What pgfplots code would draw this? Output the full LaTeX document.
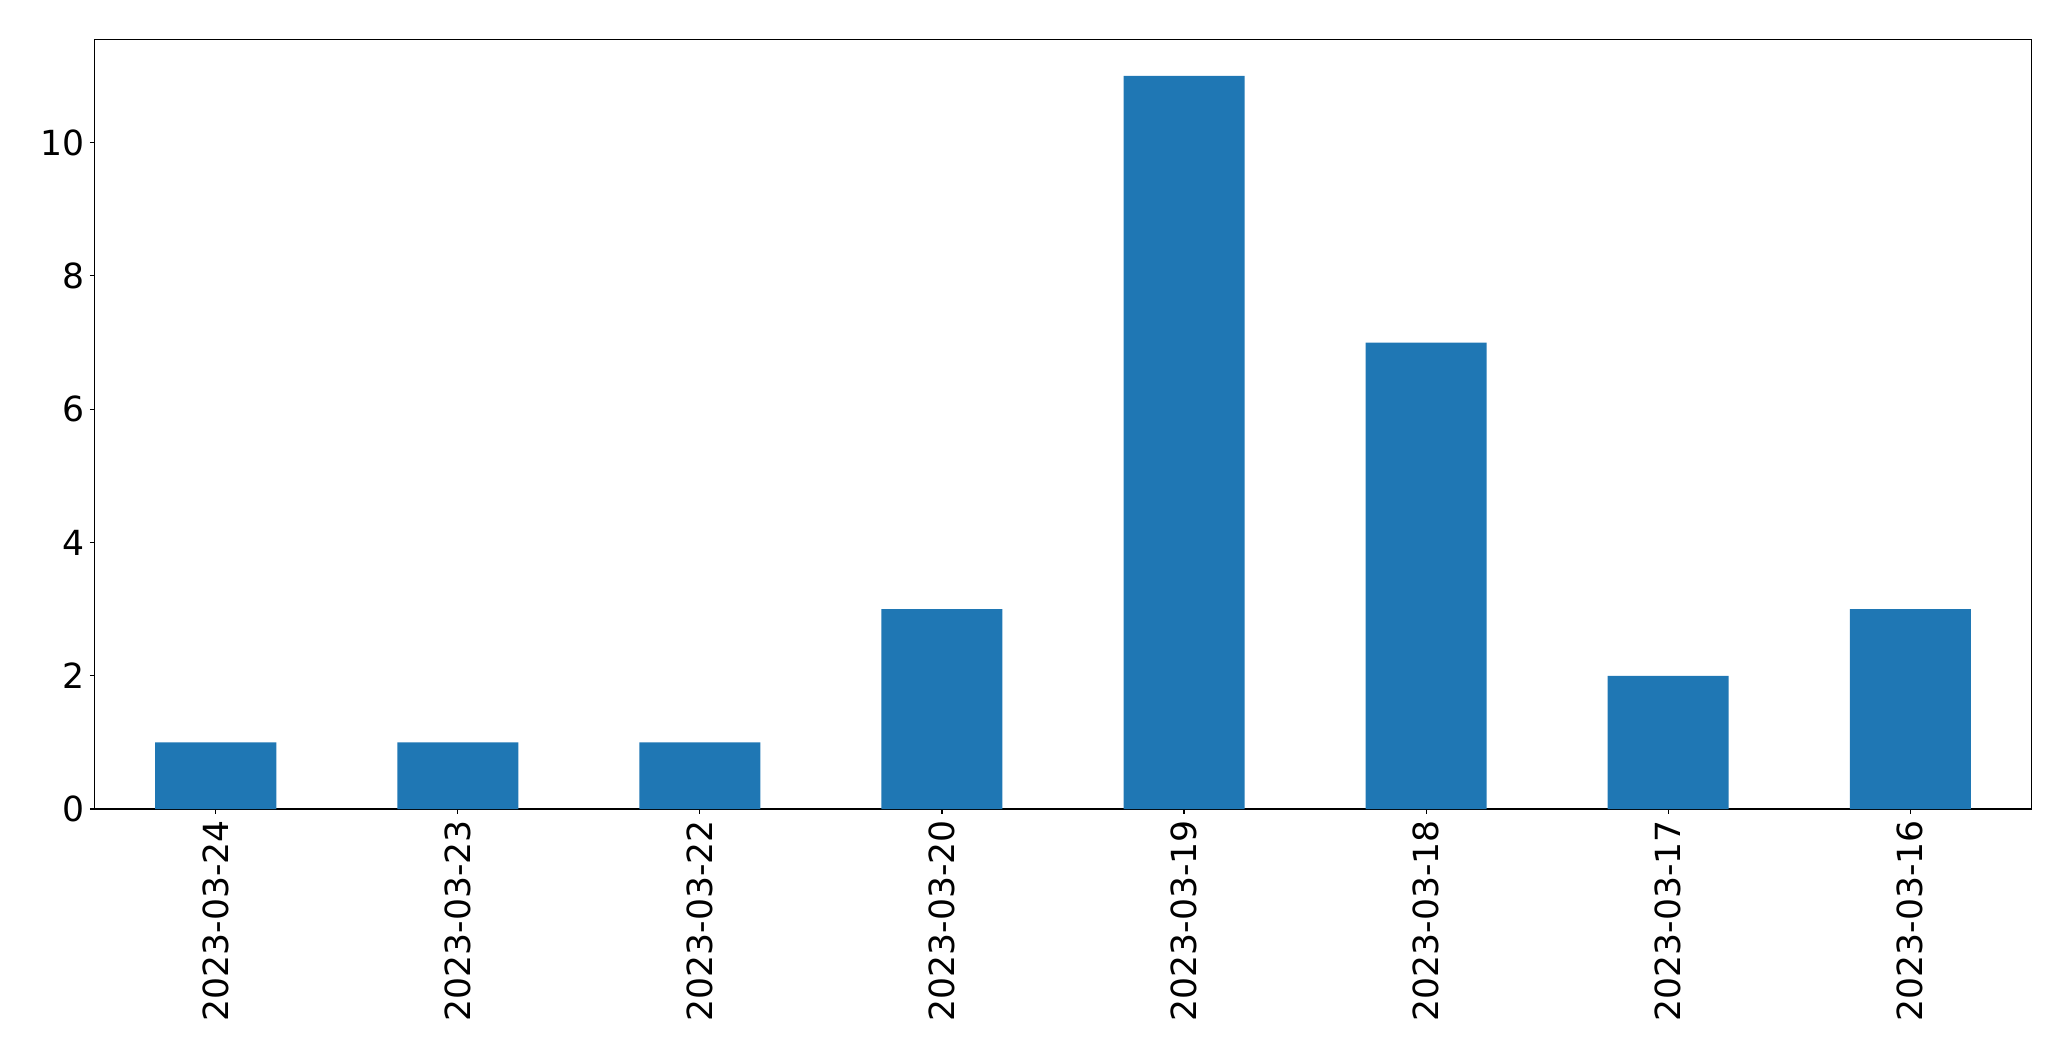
\documentclass[border=0pt]{standalone}
\usepackage{fontspec}
\setmainfont{DejaVu Sans}
\usepackage{pgfplots}
\pgfplotsset{compat=1.18}
\definecolor{mplblue}{HTML}{1F77B4}
\begin{document}
\begin{tikzpicture}
\begin{axis}[
  at={(0,0)}, anchor=south west,
  scale only axis,
  width=1394.4bp, height=554.2bp,
  xmin=-0.5, xmax=7.5,
  ymin=0, ymax=11.55,
  xtick={0,1,2,3,4,5,6,7},
  xticklabels={2023-03-24,2023-03-23,2023-03-22,2023-03-20,2023-03-19,2023-03-18,2023-03-17,2023-03-16},
  ytick={0,2,4,6,8,10},
  tick align=outside,
  major tick length=3.5bp,
  xtick pos=bottom, ytick pos=left,
  axis line style={line width=0.8bp, black},
  tick style={line width=0.8bp, black},
  /pgf/number format/assume math mode=true,
  tick label style={font=\fontsize{25}{30}\selectfont, inner sep=0pt},
  xticklabel style={rotate=90, anchor=east},
  yticklabel style={anchor=east},
  xticklabel shift=4.5bp,
  yticklabel shift=3.5bp,
  scaled y ticks=false,
]
\addplot[ybar, bar width=0.5, fill=mplblue, draw=none] coordinates {
  (0,1) (1,1) (2,1) (3,3) (4,11) (5,7) (6,2) (7,3)
};
\end{axis}
\pgfresetboundingbox
\path (-68.2bp,-181.4bp) rectangle (1422.9bp,582.5bp);
\end{tikzpicture}
\end{document}
